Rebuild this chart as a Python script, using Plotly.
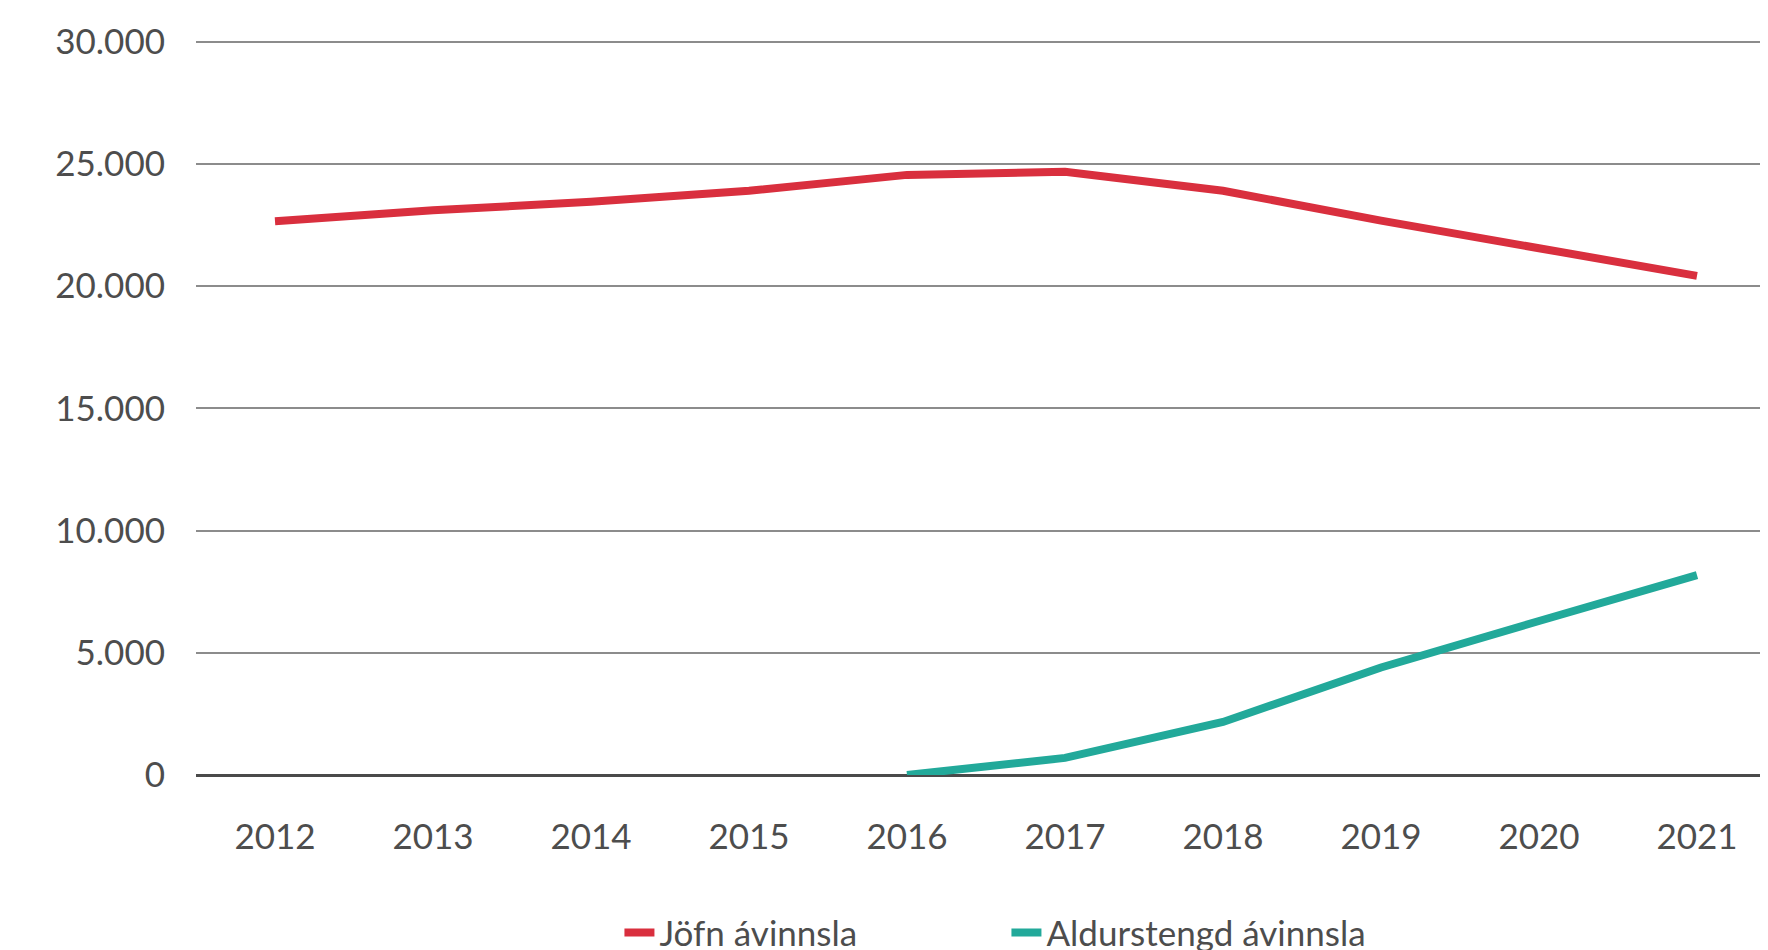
import plotly.graph_objects as go

years = ["2012", "2013", "2014", "2015", "2016", "2017", "2018", "2019", "2020", "2021"]
jofn = [22650, 23100, 23450, 23900, 24550, 24680, 23900, 22680, 21550, 20420]
aldur = [None, None, None, None, 0, 700, 2170, 4400, 6300, 8180]

y_ticks = [0, 5000, 10000, 15000, 20000, 25000, 30000]
y_labels = ["0", "5.000", "10.000", "15.000", "20.000", "25.000", "30.000"]

RED = "#D92F3E"
TEAL = "#22A99A"
TXT = "#4D4D4D"

fig = go.Figure()
fig.add_trace(go.Scatter(
    x=years, y=jofn, mode="lines", name="Jöfn ávinnsla",
    line=dict(color=RED, width=8),
))
fig.add_trace(go.Scatter(
    x=years, y=aldur, mode="lines", name="Aldurstengd ávinnsla",
    line=dict(color=TEAL, width=8),
))

fig.update_layout(
    width=1768, height=950,
    margin=dict(l=188, r=0, t=30, b=183, autoexpand=False),
    paper_bgcolor="white", plot_bgcolor="white",
    font=dict(family="Lato", size=35, color=TXT),
    showlegend=True,
    legend=dict(
        orientation="h", x=0.268, xanchor="left", y=-0.214, yanchor="middle",
        font=dict(size=35, color=TXT), traceorder="normal",
        entrywidth=342, entrywidthmode="pixels",
    ),
)
fig.update_xaxes(
    type="category", range=[-0.5, 9.5], showgrid=False, zeroline=False,
    showline=False, ticks="", ticklabelstandoff=38, automargin=False,
    tickfont=dict(size=35, color=TXT),
)
fig.update_yaxes(
    range=[0, 30150], tickvals=y_ticks, ticktext=y_labels,
    showgrid=True, gridcolor="#8C8C8C", gridwidth=1.5,
    zeroline=True, zerolinecolor="#4A4A4A", zerolinewidth=2.5,
    showline=False, ticks="", ticklabelstandoff=30, automargin=False,
    tickfont=dict(size=35, color=TXT),
)

fig.write_html("out.html")
